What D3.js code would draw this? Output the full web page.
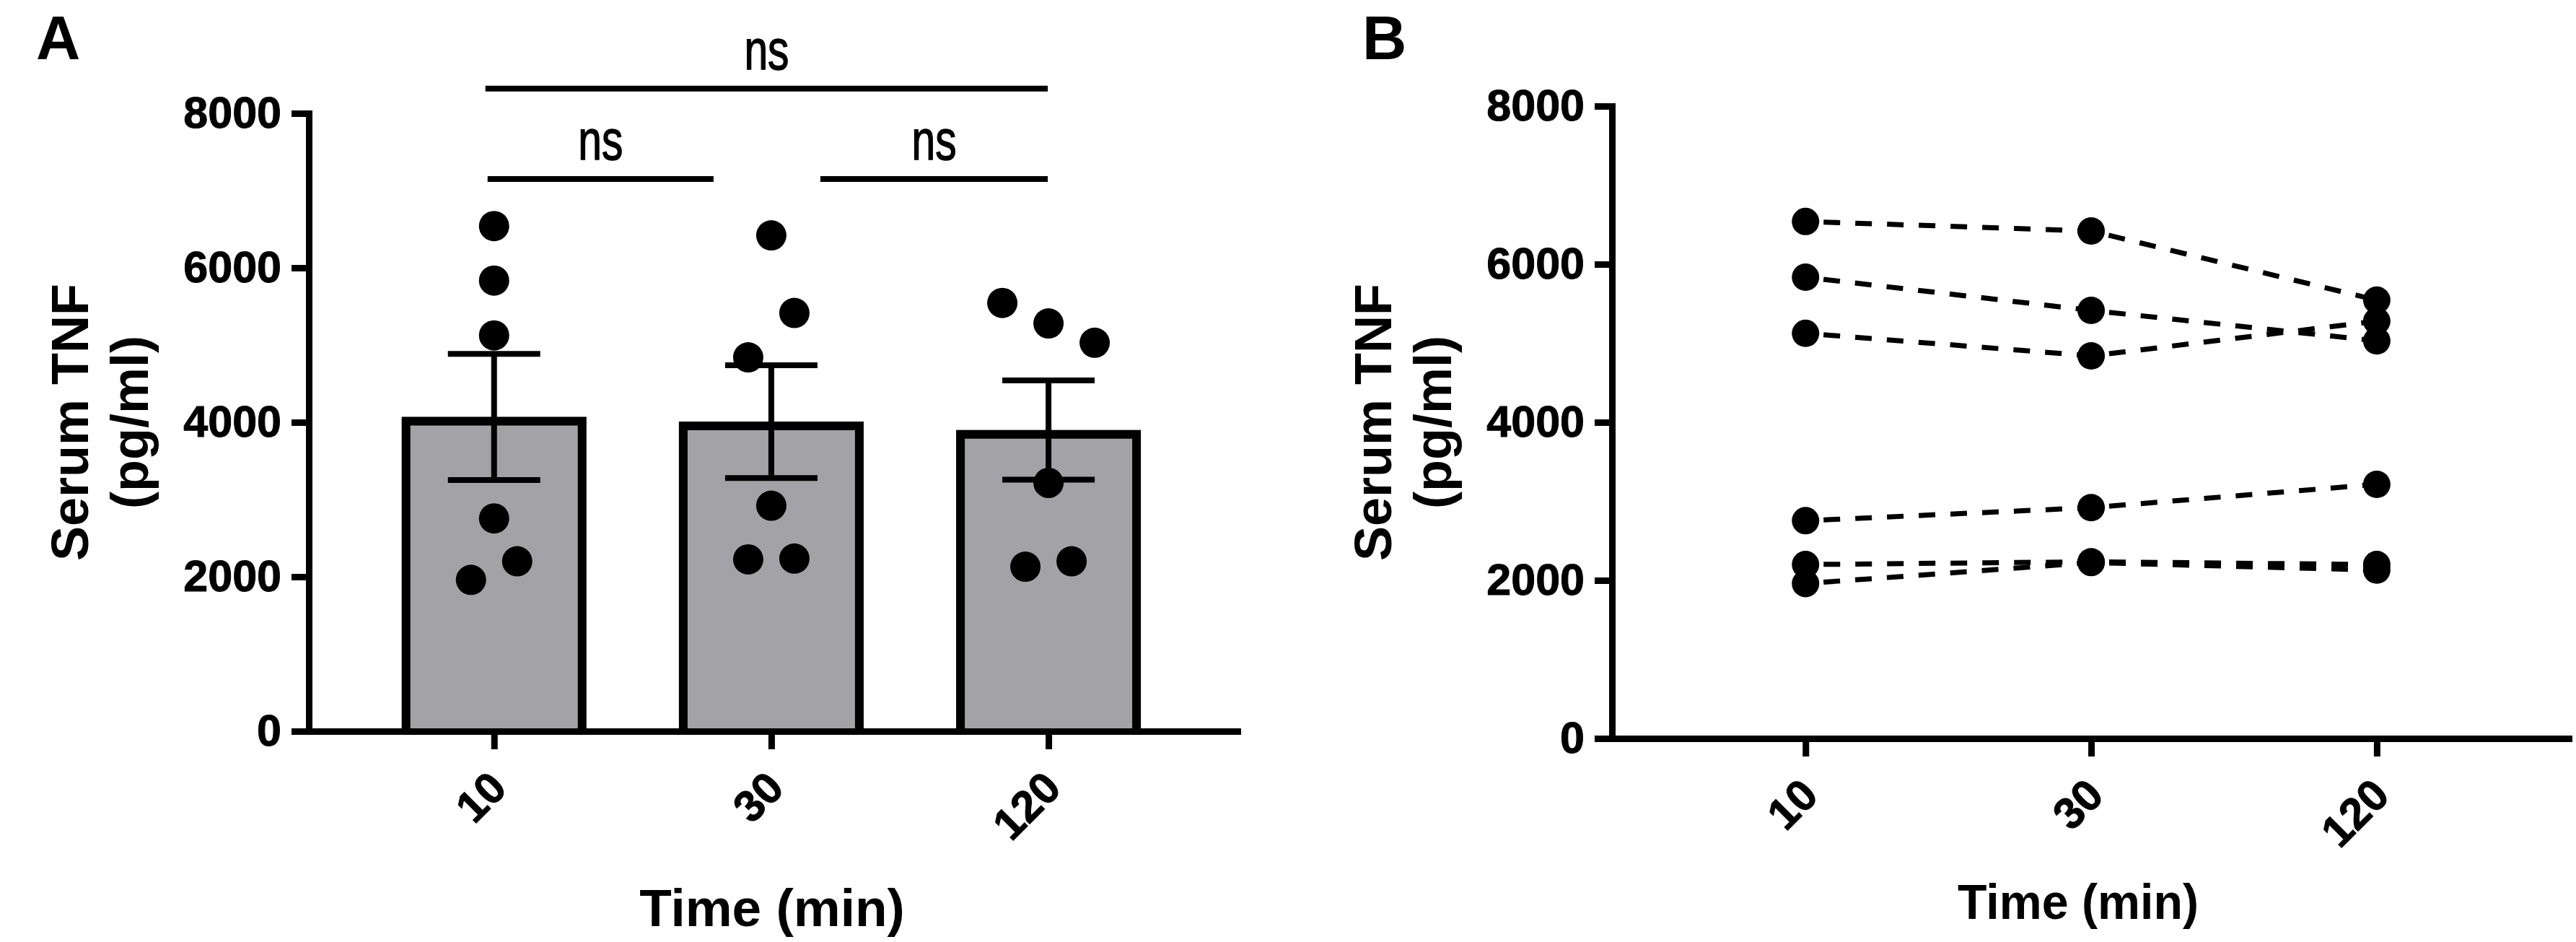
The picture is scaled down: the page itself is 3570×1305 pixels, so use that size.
<!DOCTYPE html>
<html>
<head>
<meta charset="utf-8">
<script src="https://cdn.jsdelivr.net/npm/d3@7"></script>
<style>
  body { margin: 0; background: #fff; }
</style>
</head>
<body>
<svg id="mainsvg" width="3570" height="1305"></svg>
<script>
// time points (min)
const times = ['10', '30', '120'];
// serum TNF (pg/ml), one value per mouse, same mouse order in every array
const tnf10 = [6540, 5835, 5125, 2755, 2200, 1960];
const tnf30 = [6420, 5415, 4840, 2920, 2235, 2225];
const tnf120 = [5545, 5030, 5280, 3215, 2200, 2130];
const yTicks = [0, 2000, 4000, 6000, 8000];
// multiple comparisons shown above the bars
const comparisons = [
    { from: '10', to: '120', label: 'ns' },
    { from: '10', to: '30', label: 'ns' },
    { from: '30', to: '120', label: 'ns' }
];

const series = [tnf10, tnf30, tnf120];

// layout stuff (Prism style scatter spread, bracket heights)
const jitter = [[0, 0, 0, 0, 1, -1], [0, 1, -1, 0, 1, -1], [-2, 2, 0, 0, 1, -1]];
const bracketLayout = [
    { level: 8320, trimL: -12, trimR: -1 },
    { level: 7150, trimL: -9, trimR: -80 },
    { level: 7150, trimL: 68, trimR: -1 }
];

const svg = d3.select('#mainsvg');
const font = "'Liberation Sans', Arial, Helvetica, sans-serif";
svg.append('rect').attr('width', 3570).attr('height', 1305).attr('fill', '#fff');

const makePanel = function(p) {
    const x = d3.scalePoint()
        .domain(times)
        .range([p.left, p.right])
        .padding(0.675)
        .align(p.align);
    const y = d3.scaleLinear()
        .domain([0, 8000])
        .range([p.bottom, p.top]);
    const g = svg.append('g');
    return { x, y, g };
};

const drawAxes = function(panel, p) {
    const { x, y, g } = panel;

    const yAxis = d3.axisLeft(y)
        .tickValues(yTicks)
        .tickSize(24)
        .tickSizeOuter(0)
        .tickPadding(14)
        .tickFormat(d3.format('d'));
    const ya = g.append('g').attr('transform', `translate(${p.left}, 0)`).call(yAxis);

    const xAxis = d3.axisBottom(x).tickSize(25).tickSizeOuter(0);
    const xa = g.append('g').attr('transform', `translate(0, ${p.bottom})`).call(xAxis);

    [ya, xa].forEach(a => {
        a.select('.domain').attr('stroke', '#000').attr('stroke-width', 9).attr('stroke-linecap', 'square');
        a.selectAll('.tick line').attr('stroke', '#000').attr('stroke-width', 9);
        a.selectAll('.tick text')
            .attr('fill', '#000')
            .attr('font-family', font)
            .attr('font-weight', 'bold')
            .attr('font-size', 61)
            .attr('stroke', '#000').attr('stroke-width', 1);
    });

    xa.selectAll('.tick text')
        .attr('x', 0).attr('y', 0).attr('dy', 0)
        .attr('text-anchor', 'end')
        .attr('transform', 'translate(20, 82) rotate(-45)');

    // axis titles
    const midY = (p.top + p.bottom) / 2;
    g.append('text').text('Serum TNF')
        .attr('transform', `translate(${p.left - 306}, ${midY}) rotate(-90)`)
        .attr('text-anchor', 'middle')
        .attr('font-family', font).attr('font-weight', 'bold').attr('font-size', 72);
    g.append('text').text('(pg/ml)')
        .attr('transform', `translate(${p.left - 223}, ${midY}) rotate(-90)`)
        .attr('text-anchor', 'middle')
        .attr('font-family', font).attr('font-weight', 'bold').attr('font-size', 72);

    const xt = g.append('text').text('Time (min)')
        .attr('x', p.titleX).attr('y', p.titleY)
        .attr('text-anchor', 'middle')
        .attr('font-family', font).attr('font-weight', 'bold').attr('font-size', p.titleSize);
    if (p.titleLen) xt.attr('textLength', p.titleLen).attr('lengthAdjust', 'spacingAndGlyphs');

    g.append('text').text(p.tag)
        .attr('x', p.tagX).attr('y', 82)
        .attr('font-family', font).attr('font-weight', 'bold').attr('font-size', 85);
};

// ---------- panel A : bars + scatter ----------
const pA = { left: 428, right: 1715, top: 157, bottom: 1013, align: 0.495,
    titleX: 1070, titleY: 1283, titleSize: 73, tag: 'A', tagX: 50 };
const A = makePanel(pA);

const barW = 256, stroke = 12;
series.forEach((vals, i) => {
    const cx = A.x(times[i]);
    const mean = d3.mean(vals);
    const sem = d3.deviation(vals) / Math.sqrt(vals.length);
    const top = A.y(mean);

    A.g.append('rect')
        .attr('x', cx - barW / 2).attr('y', top)
        .attr('width', barW).attr('height', A.y(0) - top)
        .attr('fill', '#a2a2a7');
    A.g.append('path')
        .attr('d', `M${cx - barW / 2 + stroke / 2},${A.y(0)}V${top + stroke / 2}H${cx + barW / 2 - stroke / 2}V${A.y(0)}`)
        .attr('fill', 'none').attr('stroke', '#000').attr('stroke-width', stroke);

    // mean +/- SEM
    A.g.append('line')
        .attr('x1', cx).attr('x2', cx)
        .attr('y1', A.y(mean - sem)).attr('y2', A.y(mean + sem))
        .attr('stroke', '#000').attr('stroke-width', 8);
    [mean - sem, mean + sem].forEach(v => {
        A.g.append('line')
            .attr('x1', cx - 64).attr('x2', cx + 64)
            .attr('y1', A.y(v)).attr('y2', A.y(v))
            .attr('stroke', '#000').attr('stroke-width', 8);
    });
});

drawAxes(A, pA);

series.forEach((vals, i) => {
    A.g.selectAll(null)
        .data(vals)
        .join('circle')
        .attr('cx', (d, j) => A.x(times[i]) + jitter[i][j] * 32)
        .attr('cy', d => A.y(d))
        .attr('r', 21)
        .attr('fill', '#000');
});

comparisons.forEach((c, k) => {
    const b = bracketLayout[k];
    const x1 = A.x(c.from) + b.trimL;
    const x2 = A.x(c.to) + b.trimR;
    const ly = A.y(b.level);
    A.g.append('line')
        .attr('x1', x1).attr('x2', x2).attr('y1', ly).attr('y2', ly)
        .attr('stroke', '#000').attr('stroke-width', 8);
    A.g.append('text').text(c.label)
        .attr('x', (x1 + x2) / 2).attr('y', ly - 27)
        .attr('text-anchor', 'middle')
        .attr('font-family', font).attr('font-size', 78)
        .attr('stroke', '#000').attr('stroke-width', 1.5)
        .attr('textLength', 62).attr('lengthAdjust', 'spacingAndGlyphs');
});

// ---------- panel B : paired lines ----------
const pB = { left: 2234, right: 3560, top: 147, bottom: 1023, align: 0.502,
    titleX: 2880, titleY: 1273, titleSize: 68, titleLen: 334, tag: 'B', tagX: 1888 };
const B = makePanel(pB);
drawAxes(B, pB);

const mice = d3.range(tnf10.length).map(j => series.map((s, i) => ({ t: times[i], v: s[j] })));

mice.forEach(m => {
    for (let i = 0; i < m.length - 1; i++) {
        B.g.append('path')
            .attr('d', d3.line().x(d => B.x(d.t)).y(d => B.y(d.v))([m[i], m[i + 1]]))
            .attr('fill', 'none')
            .attr('stroke', '#000')
            .attr('stroke-width', 7)
            .attr('stroke-dasharray', '23,21')
            .attr('stroke-dashoffset', 19);
    }
});

mice.forEach(m => {
    B.g.selectAll(null)
        .data(m)
        .join('circle')
        .attr('cx', d => B.x(d.t))
        .attr('cy', d => B.y(d.v))
        .attr('r', 19)
        .attr('fill', '#000');
});
</script>
</body>
</html>
